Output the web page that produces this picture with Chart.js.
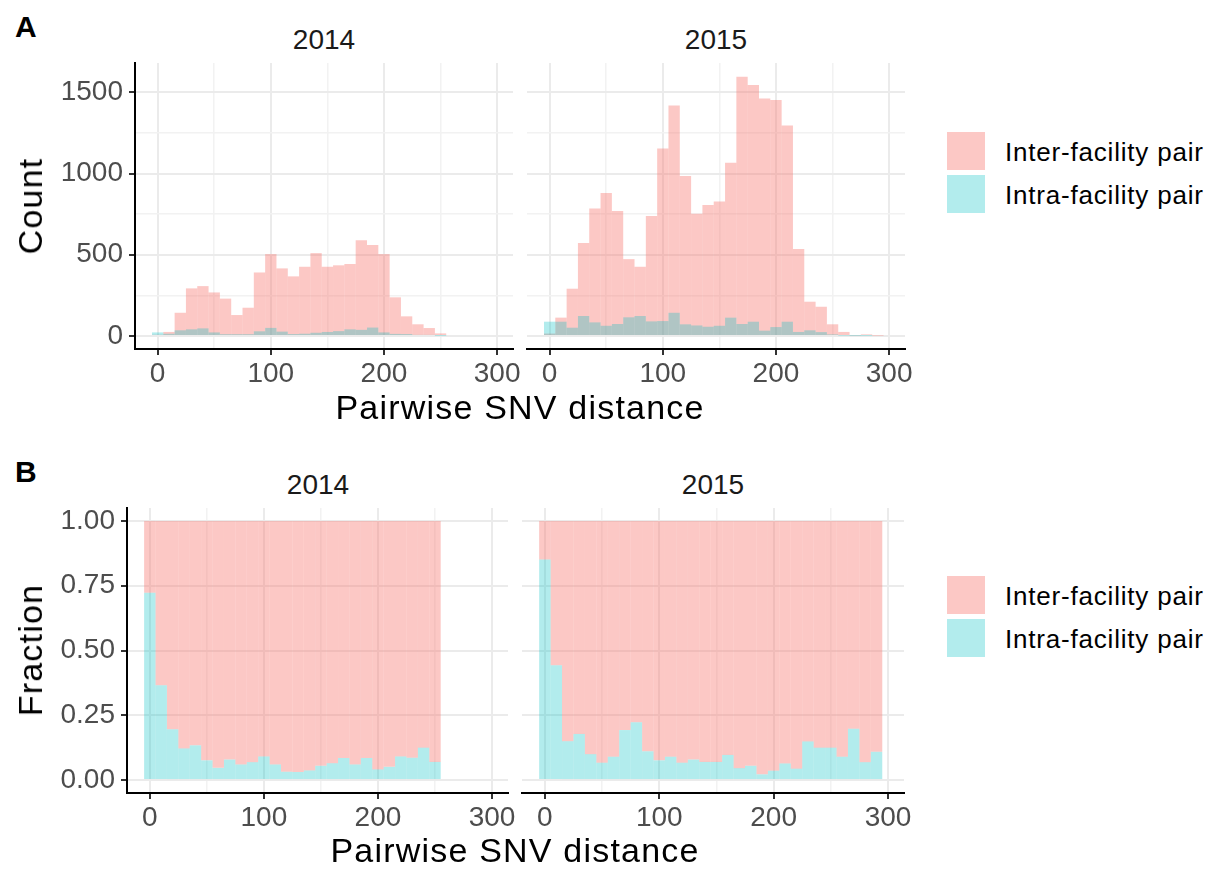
<!DOCTYPE html>
<html>
<head>
<meta charset="utf-8">
<script src="https://cdn.jsdelivr.net/npm/chart.js@4.4.1/dist/chart.umd.min.js"></script>
<style>
body { margin: 0; background: #fff; width: 1219px; height: 871px; position: relative; overflow: hidden;
       font-family: "Liberation Sans", Arial, sans-serif; }
canvas { position: absolute; }
.lbl { position: absolute; white-space: nowrap; line-height: 1; }
.tag { font-weight: bold; font-size: 30px; color: #000; }
.strip { font-size: 28px; color: #1a1a1a; transform: translateX(-50%); }
.xtitle { font-size: 34px; letter-spacing: 1.2px; color: #000; transform: translateX(-50%); }
.ytitle { font-size: 34px; letter-spacing: 1.2px; color: #000; transform: translate(-50%, -50%) rotate(-90deg); }
.key { position: absolute; width: 38px; height: 38px; }
.keytxt { font-size: 26px; letter-spacing: 0.8px; color: #000; }
</style>
</head>
<body>
<div class="lbl tag" style="left:15px; top:12px;">A</div>
<div class="lbl tag" style="left:15px; top:457px;">B</div>

<div class="lbl strip" style="left:324px; top:26px;">2014</div>
<div class="lbl strip" style="left:716px; top:26px;">2015</div>
<div class="lbl strip" style="left:318px; top:471px;">2014</div>
<div class="lbl strip" style="left:713px; top:471px;">2015</div>

<canvas id="a2014" width="520" height="345" style="left:20px; top:55px;"></canvas>
<canvas id="a2015" width="425" height="345" style="left:505px; top:55px;"></canvas>
<canvas id="b2014" width="520" height="345" style="left:20px; top:500px;"></canvas>
<canvas id="b2015" width="430" height="345" style="left:500px; top:500px;"></canvas>

<div class="lbl xtitle" style="left:520px; top:390px;">Pairwise SNV distance</div>
<div class="lbl xtitle" style="left:515px; top:833px;">Pairwise SNV distance</div>
<div class="lbl ytitle" style="left:30px; top:206px;">Count</div>
<div class="lbl ytitle" style="left:30px; top:650px;">Fraction</div>

<div class="key" style="left:947px; top:132px; background:rgba(248,118,109,0.4);"></div>
<div class="key" style="left:947px; top:175px; background:rgba(0,191,196,0.3);"></div>
<div class="lbl keytxt" style="left:1005px; top:139px;">Inter-facility pair</div>
<div class="lbl keytxt" style="left:1005px; top:182px;">Intra-facility pair</div>
<div class="key" style="left:947px; top:576px; background:rgba(248,118,109,0.4);"></div>
<div class="key" style="left:947px; top:619px; background:rgba(0,191,196,0.3);"></div>
<div class="lbl keytxt" style="left:1005px; top:583px;">Inter-facility pair</div>
<div class="lbl keytxt" style="left:1005px; top:626px;">Intra-facility pair</div>

<script>
// bins are 10 SNVs wide, centred on the values below
const bins2014 = [0, 10, 20, 30, 40, 50, 60, 70, 80, 90, 100, 110, 120, 130, 140, 150, 160, 170, 180, 190, 200, 210, 220, 230, 240, 250];
const bins2015 = [0, 10, 20, 30, 40, 50, 60, 70, 80, 90, 100, 110, 120, 130, 140, 150, 160, 170, 180, 190, 200, 210, 220, 230, 240, 250, 260, 270, 280, 290];

// counts (panel A)
const inter2014 = [8, 25, 143, 293, 307, 268, 230, 129, 174, 391, 504, 416, 367, 426, 510, 426, 435, 443, 590, 560, 504, 238, 121, 72, 49, 16];
const intra2014 = [22, 14, 35, 41, 47, 22, 11, 11, 11, 29, 50, 27, 12, 14, 20, 25, 30, 41, 38, 52, 22, 13, 12, 7, 7, 1];
const inter2015 = [15, 113, 291, 573, 784, 880, 769, 473, 426, 739, 1154, 1418, 984, 753, 806, 827, 1066, 1596, 1545, 1461, 1453, 1295, 536, 211, 180, 72, 25, 4, 10, 2];
const intra2015 = [88, 88, 51, 123, 84, 63, 74, 115, 123, 90, 92, 143, 72, 65, 57, 63, 113, 74, 88, 33, 55, 88, 25, 35, 24, 10, 2, 1, 1, 0];

// intra-facility fraction per bin (panel B)
const frac2014 = [0.723, 0.366, 0.196, 0.122, 0.134, 0.076, 0.047, 0.079, 0.060, 0.069, 0.091, 0.060, 0.032, 0.031, 0.037, 0.055, 0.065, 0.085, 0.060, 0.085, 0.041, 0.051, 0.091, 0.086, 0.125, 0.070];
const frac2015 = [0.851, 0.443, 0.150, 0.178, 0.100, 0.067, 0.090, 0.193, 0.223, 0.111, 0.076, 0.090, 0.067, 0.079, 0.070, 0.070, 0.097, 0.046, 0.055, 0.022, 0.036, 0.064, 0.044, 0.149, 0.125, 0.125, 0.090, 0.198, 0.069, 0.109];

const xTicks = [0, 50, 100, 150, 200, 250, 300];
const countTicks = [0, 250, 500, 750, 1000, 1250, 1500];
const fracTicks = [0, 0.125, 0.25, 0.375, 0.5, 0.625, 0.75, 0.875, 1];

const PINK = 'rgba(248,118,109,0.4)';
const TEAL = 'rgba(0,191,196,0.3)';
const tickFont = { family: '"Liberation Sans", Arial, sans-serif', size: 28 };

function panel(id, datasets, cfg) {
    const isMajor = (v) => cfg.majors.includes(v);
    new Chart(document.getElementById(id), {
        type: 'bar',
        data: { datasets: datasets },
        options: {
            responsive: false,
            animation: false,
            devicePixelRatio: 1,
            layout: { padding: { left: 0, right: cfg.padRight, top: 8, bottom: 0 } },
            plugins: { legend: { display: false }, tooltip: { enabled: false } },
            datasets: { bar: { grouped: false, barPercentage: 1, categoryPercentage: 1, borderWidth: 0, inflateAmount: 0 } },
            scales: {
                x: {
                    type: 'linear', min: -20, max: 314, offset: false,
                    afterBuildTicks: (s) => { s.ticks = xTicks.map(v => ({ value: v })); },
                    afterFit: (s) => { s.height = cfg.xHeight; s.paddingLeft = 0; s.paddingRight = 0; },
                    ticks: {
                        autoSkip: false, maxRotation: 0, padding: 2, color: '#4d4d4d', font: tickFont,
                        callback: (v) => (v % 100 === 0 ? String(v) : '')
                    },
                    grid: {
                        offset: false, tickLength: 6, tickWidth: 2,
                        color: (c) => (c.tick && c.tick.value % 100 === 0 ? '#ebebeb' : '#f2f2f2'),
                        lineWidth: (c) => (c.tick && c.tick.value % 100 === 0 ? 2 : 1.5),
                        tickColor: (c) => (c.tick && c.tick.value % 100 === 0 ? '#333' : 'rgba(0,0,0,0)')
                    },
                    border: { display: true, color: '#000', width: 2 }
                },
                y: {
                    min: cfg.yMin, max: cfg.yMax,
                    afterBuildTicks: (s) => { s.ticks = cfg.yTicks.map(v => ({ value: v })); },
                    afterFit: (s) => { s.width = cfg.yWidth; s.paddingTop = 0; s.paddingBottom = 0; },
                    ticks: {
                        padding: 6, color: '#4d4d4d', font: tickFont,
                        callback: (v) => (cfg.showY && isMajor(v) ? cfg.fmt(v) : '')
                    },
                    grid: {
                        drawTicks: cfg.showY, tickLength: 6, tickWidth: 2,
                        color: (c) => (c.tick && isMajor(c.tick.value) ? '#ebebeb' : '#f2f2f2'),
                        lineWidth: (c) => (c.tick && isMajor(c.tick.value) ? 2 : 1.5),
                        tickColor: (c) => (c.tick && isMajor(c.tick.value) ? '#333' : 'rgba(0,0,0,0)')
                    },
                    border: { display: cfg.showY, color: '#000', width: 2 }
                }
            }
        }
    });
}

function countSets(bins, inter, intra) {
    return [
        { data: bins.map((b, i) => ({ x: b, y: intra[i] })), backgroundColor: TEAL },
        { data: bins.map((b, i) => ({ x: b, y: inter[i] })), backgroundColor: PINK }
    ];
}

function fracSets(bins, frac) {
    return [
        { data: bins.map((b, i) => ({ x: b, y: frac[i] })), backgroundColor: TEAL },
        { data: bins.map((b, i) => ({ x: b, y: [frac[i], 1] })), backgroundColor: PINK }
    ];
}

const countCfg = { yMin: -80, yMax: 1680, yTicks: countTicks, majors: [0, 500, 1000, 1500], fmt: (v) => String(v), xHeight: 51 };
const fracCfg = { yMin: -0.05, yMax: 1.05, yTicks: fracTicks, majors: [0, 0.25, 0.5, 0.75, 1], fmt: (v) => v.toFixed(2), xHeight: 52 };

panel('a2014', countSets(bins2014, inter2014, intra2014), { ...countCfg, showY: true, yWidth: 115, padRight: 27 });
panel('a2015', countSets(bins2015, inter2015, intra2015), { ...countCfg, showY: false, yWidth: 22, padRight: 25 });
panel('b2014', fracSets(bins2014, frac2014), { ...fracCfg, showY: true, yWidth: 107, padRight: 32 });
panel('b2015', fracSets(bins2015, frac2015), { ...fracCfg, showY: false, yWidth: 22, padRight: 26 });
</script>
</body>
</html>
